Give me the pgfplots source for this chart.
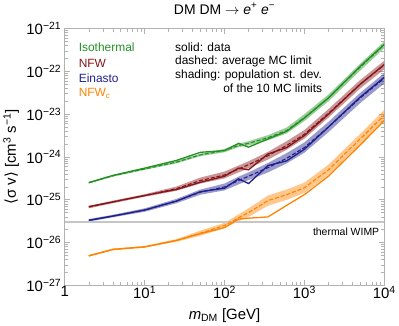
\documentclass[border=0pt]{standalone}
\usepackage{fontspec}
\setmainfont{Liberation Sans}
\newfontfamily\dejavu{DejaVu Sans}
\usepackage{pgfplots}
\pgfplotsset{compat=1.18}
\usepgfplotslibrary{fillbetween}

\definecolor{cIso}{RGB}{34,145,34}
\definecolor{cNFW}{RGB}{135,20,25}
\definecolor{cEin}{RGB}{30,30,140}
\definecolor{cNFWc}{RGB}{255,130,0}

% columns: mass [GeV], log10 <sigma v> for data (s), MC mean (d), MC band (lo, hi)
\pgfplotstableread{
m s d lo hi
2 -24.60 -24.60 -24.62 -24.58
4 -24.43 -24.44 -24.46 -24.42
10 -24.26 -24.28 -24.30 -24.26
25 -24.08 -24.12 -24.15 -24.09
50 -23.89 -23.95 -23.98 -23.92
100 -23.85 -23.85 -23.89 -23.81
150 -23.68 -23.73 -23.77 -23.69
200 -23.77 -23.68 -23.73 -23.63
350 -23.58 -23.55 -23.61 -23.49
600 -23.40 -23.38 -23.45 -23.31
1000 -23.09 -23.08 -23.16 -23.00
2000 -22.62 -22.62 -22.70 -22.54
5000 -21.88 -21.90 -21.98 -21.82
10000 -21.37 -21.38 -21.46 -21.30
}\iso
\pgfplotstableread{
m s d lo hi
2 -25.16 -25.17 -25.20 -25.14
4 -25.05 -25.05 -25.08 -25.02
10 -24.90 -24.90 -24.93 -24.87
25 -24.76 -24.74 -24.79 -24.69
50 -24.59 -24.55 -24.62 -24.48
100 -24.45 -24.42 -24.50 -24.34
150 -24.26 -24.28 -24.36 -24.20
200 -24.30 -24.18 -24.26 -24.10
350 -23.93 -23.97 -24.06 -23.88
600 -23.78 -23.73 -23.83 -23.63
1000 -23.50 -23.47 -23.57 -23.37
2000 -23.00 -22.98 -23.08 -22.88
5000 -22.30 -22.30 -22.40 -22.20
10000 -21.84 -21.85 -21.95 -21.75
}\nfw
\pgfplotstableread{
m s d lo hi
2 -25.48 -25.48 -25.51 -25.45
4 -25.38 -25.38 -25.41 -25.35
10 -25.24 -25.24 -25.28 -25.20
25 -25.03 -25.03 -25.08 -24.98
50 -24.81 -24.82 -24.88 -24.76
100 -24.73 -24.70 -24.78 -24.62
150 -24.51 -24.55 -24.64 -24.46
200 -24.62 -24.45 -24.54 -24.36
350 -24.20 -24.25 -24.36 -24.14
600 -24.09 -24.03 -24.15 -23.91
1000 -23.82 -23.78 -23.90 -23.66
2000 -23.30 -23.30 -23.42 -23.18
5000 -22.60 -22.62 -22.74 -22.50
10000 -22.14 -22.16 -22.28 -22.04
}\ein
\pgfplotstableread{
m s d lo hi
2 -26.31 -26.31 -26.33 -26.29
4 -26.16 -26.16 -26.18 -26.14
10 -26.10 -26.10 -26.12 -26.08
25 -25.95 -25.95 -25.98 -25.92
50 -25.79 -25.78 -25.84 -25.72
100 -25.65 -25.60 -25.66 -25.54
150 -25.45 -25.42 -25.50 -25.34
200 -25.43 -25.30 -25.40 -25.20
350 -25.40 -25.02 -25.14 -24.90
600 -25.13 -24.88 -25.00 -24.76
1000 -24.88 -24.72 -24.84 -24.60
2000 -24.45 -24.30 -24.42 -24.18
5000 -23.72 -23.58 -23.70 -23.46
10000 -23.15 -23.02 -23.14 -22.90
}\nfwc

\newcommand{\ex}[1]{10\textsuperscript{#1}}

\begin{document}
\begin{tikzpicture}
\begin{axis}[
  scale only axis, width=321pt, height=258pt,
  xmode=log, xmin=1, xmax=10000,
  ymin=-27, ymax=-21,
  xtick={1,10,100,1000,10000},
  xticklabels={1,\ex{1},\ex{2},\ex{3},\ex{4}},
  ytick={-27,-26,-25,-24,-23,-22,-21},
  yticklabels={\ex{−27},\ex{−26},\ex{−25},\ex{−24},\ex{−23},\ex{−22},\ex{−21}},
  minor ytick={-26.699,-26.523,-26.398,-26.301,-26.222,-26.155,-26.097,-26.046,
               -25.699,-25.523,-25.398,-25.301,-25.222,-25.155,-25.097,-25.046,
               -24.699,-24.523,-24.398,-24.301,-24.222,-24.155,-24.097,-24.046,
               -23.699,-23.523,-23.398,-23.301,-23.222,-23.155,-23.097,-23.046,
               -22.699,-22.523,-22.398,-22.301,-22.222,-22.155,-22.097,-22.046,
               -21.699,-21.523,-21.398,-21.301,-21.222,-21.155,-21.097,-21.046},
  tick align=inside,
  major tick length=5pt, minor tick length=3pt,
  axis line style={gray!60, line width=0.8pt},
  tick style={gray!60, line width=0.6pt},
  tick label style={font=\fontsize{15}{17}\selectfont},
  xticklabel style={yshift=3pt},
  title={DM DM $\rightarrow$ \textit{e}\textsuperscript{+} \textit{e}\textsuperscript{−}},
  title style={font=\fontsize{14}{16}\selectfont, at={(axis description cs:0.5,1.054)}, anchor=center},
  xlabel={\textit{m}\textsubscript{DM} [GeV]},
  ylabel={{\dejavu ⟨}σ v{\dejavu ⟩} [cm\textsuperscript{3} s\textsuperscript{−1}]},
  label style={font=\fontsize{15}{17}\selectfont},
  xlabel style={at={(axis description cs:0.5,-0.118)}, anchor=center},
  ylabel style={at={(axis description cs:-0.168,0.5)}, anchor=center},
  clip=true,
]
% thermal WIMP reference
\addplot[gray!45, line width=1.6pt, forget plot] coordinates {(1,-25.523) (10000,-25.523)};

% bands
\addplot[name path=isoL, draw=none, forget plot] table[x=m, y=lo] {\iso};
\addplot[name path=isoH, draw=none, forget plot] table[x=m, y=hi] {\iso};
\addplot[cIso, fill opacity=0.45, draw=none, forget plot] fill between[of=isoL and isoH];
\addplot[name path=nfwL, draw=none, forget plot] table[x=m, y=lo] {\nfw};
\addplot[name path=nfwH, draw=none, forget plot] table[x=m, y=hi] {\nfw};
\addplot[cNFW, fill opacity=0.45, draw=none, forget plot] fill between[of=nfwL and nfwH];
\addplot[name path=einL, draw=none, forget plot] table[x=m, y=lo] {\ein};
\addplot[name path=einH, draw=none, forget plot] table[x=m, y=hi] {\ein};
\addplot[cEin, fill opacity=0.45, draw=none, forget plot] fill between[of=einL and einH];
\addplot[name path=ncL, draw=none, forget plot] table[x=m, y=lo] {\nfwc};
\addplot[name path=ncH, draw=none, forget plot] table[x=m, y=hi] {\nfwc};
\addplot[cNFWc, fill opacity=0.45, draw=none, forget plot] fill between[of=ncL and ncH];

% MC means (dashed)
\addplot[cIso, line width=1.1pt, dash pattern=on 4pt off 2pt] table[x=m, y=d] {\iso};
\addplot[cNFW, line width=1.1pt, dash pattern=on 4pt off 2pt] table[x=m, y=d] {\nfw};
\addplot[cEin, line width=1.1pt, dash pattern=on 4pt off 2pt] table[x=m, y=d] {\ein};
\addplot[cNFWc, line width=1.1pt, dash pattern=on 4pt off 2pt] table[x=m, y=d] {\nfwc};

% data (solid)
\addplot[cIso, line width=1.3pt] table[x=m, y=s] {\iso};
\addplot[cNFW, line width=1.3pt] table[x=m, y=s] {\nfw};
\addplot[cEin, line width=1.3pt] table[x=m, y=s] {\ein};
\addplot[cNFWc, line width=1.3pt] table[x=m, y=s] {\nfwc};

% labels
\begin{scope}[every node/.style={anchor=west, inner sep=0pt, font=\fontsize{12}{14}\selectfont}]
\node[text=cIso] at (axis cs:1.49,-21.44) {Isothermal};
\node[text=cNFW] at (axis cs:1.49,-21.81) {NFW};
\node[text=cEin] at (axis cs:1.49,-22.16) {Einasto};
\node[text=cNFWc] at (axis cs:1.49,-22.51) {NFW\textsubscript{\textit{c}}};
\node at (axis cs:24,-21.44) {solid: data};
\node at (axis cs:24,-21.77) {dashed: average MC limit};
\node at (axis cs:24,-22.09) {shading: population st. dev.};
\node at (axis cs:96,-22.40) {of the 10 MC limits};
\end{scope}
\node[anchor=east, inner sep=0pt, font=\fontsize{10.5}{12}\selectfont] at (axis cs:8700,-25.74) {thermal WIMP};
\end{axis}
\end{tikzpicture}
\end{document}
